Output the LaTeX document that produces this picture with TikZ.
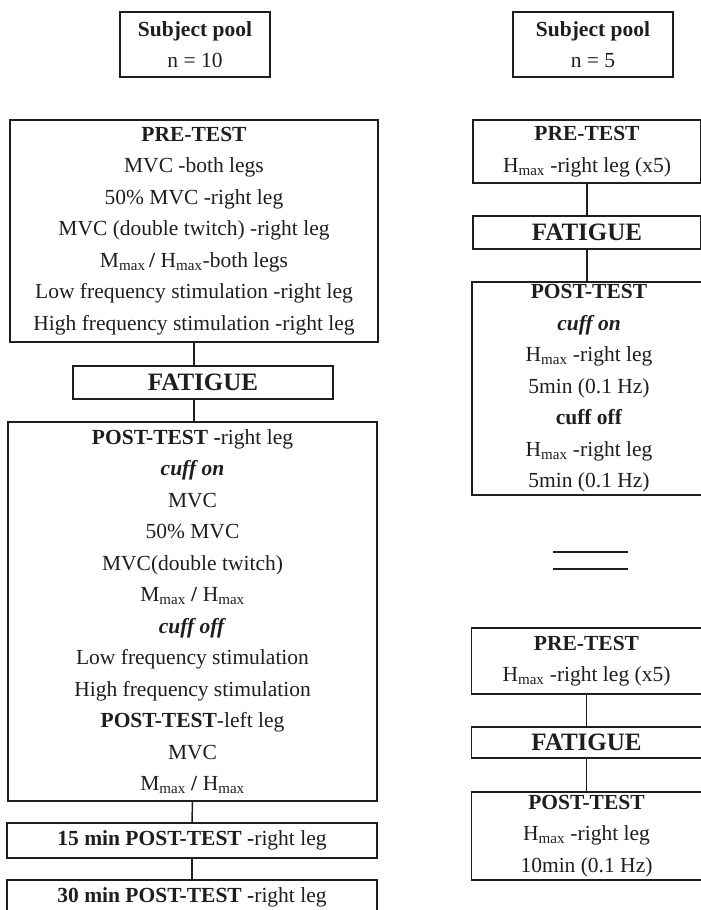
\documentclass[tikz,border=0pt]{standalone}
\usepackage{fontspec}
\setmainfont{Liberation Serif}
\definecolor{ink}{HTML}{1E1E1E}
\newcommand\mx{\textsubscript{max}}
\begin{document}
\begin{tikzpicture}[x=1pt,y=-1pt,
  box/.style={draw=ink, line width=1.6pt, inner sep=0pt, align=center,
    text=ink, font=\fontsize{21.5}{31.5}\selectfont},
  fatbox/.style={box, font=\bfseries\fontsize{25}{30}\selectfont},
  link/.style={draw=ink, line width=1.5pt},
  eqline/.style={draw=ink, line width=1.8pt}]
\useasboundingbox (0,0) rectangle (701,910);
\clip (0,0) rectangle (701,910);

% ---- left protocol (n = 10) ----
\node[box, minimum width=150pt, minimum height=65pt] (poolL) at (195,44.5)
  {\textbf{Subject pool}\\n = 10};
\node[box, minimum width=368pt, minimum height=222pt] (preL) at (194,231)
  {\textbf{PRE-TEST}\\MVC -both legs\\50\% MVC -right leg\\MVC (double twitch) -right leg\\
   M\mx\,\textbf{/} H\mx-both legs\\Low frequency stimulation -right leg\\
   High frequency stimulation -right leg};
\node[fatbox, minimum width=260pt, minimum height=33pt] (fatL) at (203,382.5) {FATIGUE};
\node[box, minimum width=369pt, minimum height=379pt] (postL) at (192.5,611.5)
  {\textbf{POST-TEST -}right leg\\\textbf{\textit{cuff on}}\\MVC\\50\% MVC\\MVC(double twitch)\\
   M\mx\ \textbf{/} H\mx\\\textbf{\textit{cuff off}}\\Low frequency stimulation\\
   High frequency stimulation\\\textbf{POST-TEST}-left leg\\MVC\\M\mx\ \textbf{/} H\mx};
\node[box, minimum width=370pt, minimum height=35pt] (late15) at (192,840.5)
  {\textbf{15 min POST-TEST -}right leg};
\node[box, minimum width=370pt, minimum height=35pt] (late30) at (192,897.5)
  {\textbf{30 min POST-TEST -}right leg};

\draw[link] (preL.south) -- (preL.south |- fatL.north);
\draw[link] (preL.south |- fatL.south) -- (preL.south |- postL.north);
\draw[link] (postL.south) -- (late15.north);
\draw[link] (late15.south) -- (late30.north);

% ---- right protocol (n = 5) ----
\node[box, minimum width=160pt, minimum height=65pt] (poolR) at (593,44.5)
  {\textbf{Subject pool}\\n = 5};
\node[box, minimum width=228pt, minimum height=63pt] (preR1) at (587,151.5)
  {\textbf{PRE-TEST}\\H\mx\ -right leg (x5)};
\node[fatbox, minimum width=228pt, minimum height=33pt] (fatR1) at (587,232.5) {FATIGUE};
\node[box, minimum width=234pt, minimum height=213pt] (postR1) at (589,388.5)
  {\textbf{POST-TEST}\\\textbf{\textit{cuff on}}\\H\mx\ -right leg\\5min (0.1 Hz)\\
   \textbf{cuff off}\\H\mx\ -right leg\\5min (0.1 Hz)};

\draw[link] (preR1.south) -- (fatR1.north);
\draw[link] (fatR1.south) -- (fatR1.south |- postR1.north);

% equivalence sign between the two sessions
\draw[eqline] (553,552) -- (628,552);
\draw[eqline] (553,569) -- (628,569);

\node[box, minimum width=230pt, minimum height=66pt] (preR2) at (586.5,661)
  {\textbf{PRE-TEST}\\H\mx\ -right leg (x5)};
\node[fatbox, minimum width=230pt, minimum height=31pt] (fatR2) at (586.5,742.5) {FATIGUE};
\node[box, minimum width=230pt, minimum height=88pt] (postR2) at (586.5,836)
  {\textbf{POST-TEST}\\H\mx\ -right leg\\10min (0.1 Hz)};

\draw[link] (preR2.south) -- (fatR2.north);
\draw[link] (fatR2.south) -- (postR2.north);
\end{tikzpicture}
\end{document}
